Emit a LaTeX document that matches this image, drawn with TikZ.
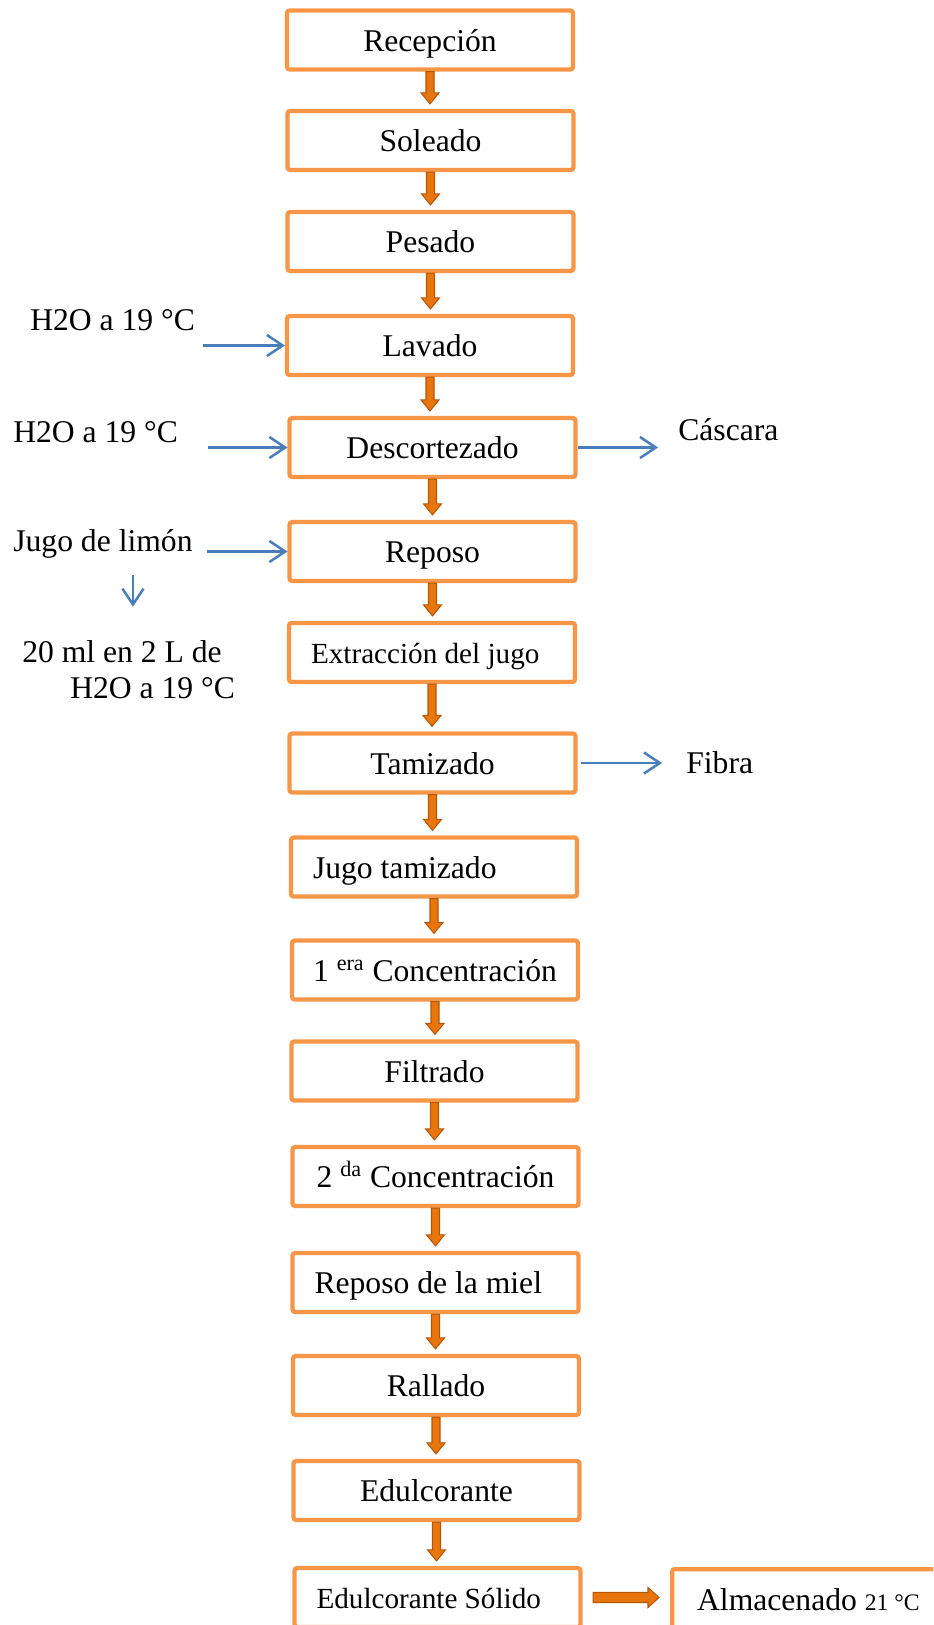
\documentclass[tikz,border=0pt]{standalone}
\usepackage{fontspec}
\setmainfont{Liberation Serif}
\usepackage{tikz}
\usetikzlibrary{calc,arrows.meta}
\definecolor{naranja}{HTML}{F79646}
\definecolor{relleno}{HTML}{E8760C}
\definecolor{borde}{HTML}{B65708}
\definecolor{azulflecha}{HTML}{4A7EBB}
\tikzset{
	caja/.style={rectangle,draw=naranja,line width=0.085cm,fill=white,rounded corners=1.5pt,minimum width=5.72cm,minimum height=1.18cm,text height=17pt,text depth=4pt,font=\fontsize{18}{21}\selectfont},
	izq/.style={align=flush left,text width=4.84cm,inner xsep=0.44cm},
	etiq/.style={inner sep=0pt,anchor=base west,font=\fontsize{18}{21}\selectfont},
	azul/.style={draw=azulflecha,line width=1.4pt,-{Straight Barb[length=9pt,width=12pt]}},
	bloque/.style={fill=relleno,draw=borde,line width=0.6pt}
}
\newcommand{\flechabaja}[2]{%
	\draw[bloque] ($(#1.south)+(-4,0)$) -- ($(#1.south |- #2.north)+(-4,-16)$) -- ($(#1.south |- #2.north)+(-9,-16)$) -- ($(#1.south |- #2.north)+(0,-5)$) -- ($(#1.south |- #2.north)+(9,-16)$) -- ($(#1.south |- #2.north)+(4,-16)$) -- ($(#1.south)+(4,0)$) -- cycle;}

\begin{document}
\begin{tikzpicture}[x=0.02cm,y=-0.02cm]
		\path[use as bounding box] (0,0) rectangle (933,1625);
		\clip (0,0) rectangle (933,1625);
		
		% proceso
		\node[caja] (rec) at (430,40) {Recepción};
		\node[caja] (sol) at (430.5,140.5) {Soleado};
		\node[caja] (pes) at (430.5,241.5) {Pesado};
		\node[caja] (lav) at (430,345.5) {Lavado};
		\node[caja] (desc) at (432.5,447.5) {Descortezado};
		\node[caja] (rep) at (432.5,551.5) {Reposo};
		\node[caja,izq,font=\fontsize{16.6}{20}\selectfont] (ext) at (432,652.5) {Extracción del jugo};
		\node[caja] (tam) at (432.5,763) {Tamizado};
		\node[caja,izq] (jt) at (434,867) {Jugo tamizado};
		\node[caja] (c1) at (435,970) {1 \textsuperscript{era} Concentración};
		\node[caja] (fil) at (434.5,1071) {Filtrado};
		\node[caja] (c2) at (435.5,1176.5) {2 \textsuperscript{da} Concentración};
		\node[caja,izq] (rm) at (435.5,1282.5) {Reposo de la miel};
		\node[caja] (ral) at (436,1385.5) {Rallado};
		\node[caja] (edu) at (436.5,1490.5) {Edulcorante};
		\node[caja,izq,font=\fontsize{16.6}{20}\selectfont] (es) at (437.5,1597.5) {Edulcorante Sólido};
		\node[caja,izq,inner xsep=0.5cm,anchor=north west] (alm) at (670,1567) {Almacenado {\fontsize{13.5}{16}\selectfont 21 °C}};
		
		\foreach \a/\b in {rec/sol,sol/pes,pes/lav,lav/desc,desc/rep,rep/ext,ext/tam,tam/jt,jt/c1,c1/fil,fil/c2,c2/rm,rm/ral,ral/edu,edu/es}
		{\flechabaja{\a}{\b}}
		
		\draw[bloque] ($(es.east)+(10.5,-5)$) -- ($(alm.west |- es.east)+(-22,-5)$) -- ($(alm.west |- es.east)+(-22,-10)$) -- ($(alm.west |- es.east)+(-11,0)$) -- ($(alm.west |- es.east)+(-22,10)$) -- ($(alm.west |- es.east)+(-22,5)$) -- ($(es.east)+(10.5,5)$) -- cycle;
		
		% entradas y salidas
		\node[etiq] (agua1) at (30,331) {H2O a 19 °C};
		\node[etiq] (agua2) at (13,442) {H2O a 19 °C};
		\node[etiq] (limon) at (13,551) {Jugo de limón};
		\node[etiq] (dosis1) at (22,662) {20 ml en 2 L de};
		\node[etiq] (dosis2) at (70,698) {H2O a 19 °C};
		\node[etiq] (cas) at (678,440) {Cáscara};
		\node[etiq] (fib) at (686,773) {Fibra};
		
		\draw[azul,shorten <=0.16cm] (agua1.east |- lav.west) -- (lav.west);
		\draw[azul,shorten <=0.6cm] (agua2.east |- desc.west) -- (desc.west);
		\draw[azul,shorten <=0.28cm] (limon.east |- rep.west) -- (rep.west);
		\draw[azul] ($(limon.south)+(30,17)$) -- ($(dosis1.north -| limon.south)+(30,-33)$);
		\draw[azul,shorten >=0.4cm] (desc.east) -- (desc.east -| cas.west);
		\draw[azul,shorten <=0.07cm,shorten >=0.48cm] (tam.east) -- (tam.east -| fib.west);
		
		\end{tikzpicture}
\end{document}
